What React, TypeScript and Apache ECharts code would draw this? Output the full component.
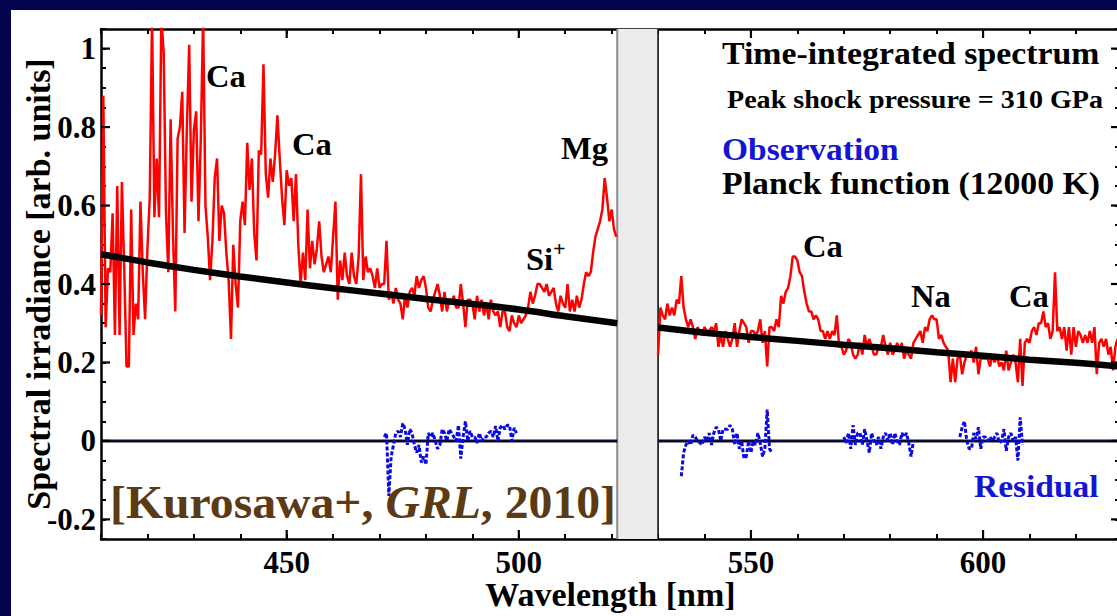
import React, { useEffect, useRef } from 'react';
import * as echarts from 'echarts';

// ---------- data ----------
const xMin = 410;
const xMax = 629.5;
const yMin = -0.25;
const yMax = 1.05;

const bandRange = [521.2, 530];

// Observed spectrum, 0.5 nm sampling
const obsStep = 0.5;
const obsLeftStart = 410;
const obsLeft = [
  0.32, 0.88, 0.29, 0.44, 0.43, 0.58, 0.27, 0.65, 0.27, 0.66,
  0.44, 0.19, 0.19, 0.59, 0.27, 0.35, 0.31, 0.61, 0.43, 0.31,
  0.49, 0.62, 1.08, 0.57, 0.72, 0.57, 1.08, 0.99, 0.58, 0.43,
  0.82, 0.53, 0.33, 0.77, 0.80, 0.89, 0.53, 0.80, 1.01, 0.61,
  0.79, 0.84, 0.56, 0.77, 1.08, 0.60, 0.52, 0.41, 0.51, 0.67,
  0.72, 0.51, 0.60, 0.58, 0.48, 0.41, 0.26, 0.50, 0.40, 0.34,
  0.56, 0.61, 0.55, 0.76, 0.64, 0.72, 0.53, 0.46, 0.74, 0.73,
  0.96, 0.68, 0.62, 0.72, 0.66, 0.73, 0.83, 0.72, 0.62, 0.55,
  0.69, 0.65, 0.67, 0.56, 0.68, 0.50, 0.40, 0.48, 0.41, 0.59,
  0.44, 0.51, 0.45, 0.49, 0.56, 0.47, 0.43, 0.45, 0.47, 0.43,
  0.52, 0.61, 0.36, 0.46, 0.41, 0.48, 0.42, 0.40, 0.48, 0.42,
  0.40, 0.47, 0.68, 0.41, 0.47, 0.43, 0.44, 0.42, 0.39, 0.44,
  0.39, 0.40, 0.40, 0.51, 0.36, 0.38, 0.35, 0.39, 0.36, 0.35,
  0.31, 0.37, 0.34, 0.38, 0.39, 0.37, 0.42, 0.39, 0.41, 0.42,
  0.39, 0.34, 0.33, 0.36, 0.38, 0.40, 0.37, 0.33, 0.38, 0.33,
  0.36, 0.35, 0.37, 0.34, 0.34, 0.40, 0.35, 0.29, 0.36, 0.36,
  0.35, 0.31, 0.37, 0.33, 0.36, 0.32, 0.35, 0.31, 0.36, 0.33,
  0.32, 0.33, 0.29, 0.33, 0.33, 0.29, 0.28, 0.32, 0.30, 0.29,
  0.32, 0.30, 0.31, 0.32, 0.34, 0.38, 0.35, 0.37, 0.40, 0.40,
  0.39, 0.38, 0.40, 0.37, 0.38, 0.39, 0.35, 0.33, 0.37, 0.35,
  0.34, 0.40, 0.33, 0.36, 0.33, 0.37, 0.34, 0.36, 0.40, 0.43,
  0.42, 0.43, 0.48, 0.52, 0.54, 0.56, 0.59, 0.67, 0.62, 0.56,
  0.59, 0.54, 0.52,
];
const obsRightStart = 530;
const obsRight = [
  0.22, 0.34, 0.32, 0.31, 0.35, 0.32, 0.34, 0.32, 0.36, 0.35,
  0.42, 0.34, 0.31, 0.29, 0.31, 0.29, 0.26, 0.29, 0.28, 0.27,
  0.29, 0.28, 0.28, 0.29, 0.28, 0.30, 0.24, 0.27, 0.24, 0.28,
  0.26, 0.24, 0.26, 0.30, 0.24, 0.28, 0.31, 0.30, 0.29, 0.25,
  0.28, 0.28, 0.27, 0.28, 0.31, 0.25, 0.28, 0.19, 0.29, 0.29,
  0.28, 0.31, 0.29, 0.37, 0.35, 0.38, 0.39, 0.42, 0.47, 0.47,
  0.46, 0.43, 0.42, 0.38, 0.35, 0.33, 0.33, 0.31, 0.32, 0.31,
  0.28, 0.28, 0.26, 0.28, 0.26, 0.28, 0.27, 0.32, 0.24, 0.24,
  0.22, 0.23, 0.26, 0.25, 0.22, 0.21, 0.22, 0.25, 0.22, 0.27,
  0.24, 0.26, 0.24, 0.22, 0.22, 0.24, 0.24, 0.27, 0.24, 0.22,
  0.25, 0.22, 0.23, 0.25, 0.23, 0.25, 0.21, 0.23, 0.22, 0.21,
  0.25, 0.26, 0.27, 0.28, 0.25, 0.29, 0.28, 0.31, 0.32, 0.31,
  0.31, 0.26, 0.27, 0.25, 0.24, 0.23, 0.15, 0.21, 0.15, 0.21,
  0.22, 0.17, 0.20, 0.22, 0.22, 0.23, 0.20, 0.24, 0.17, 0.21,
  0.21, 0.21, 0.21, 0.19, 0.22, 0.20, 0.22, 0.19, 0.20, 0.18,
  0.23, 0.18, 0.20, 0.22, 0.20, 0.15, 0.26, 0.14, 0.25, 0.26,
  0.25, 0.28, 0.29, 0.27, 0.30, 0.30, 0.33, 0.29, 0.30, 0.26,
  0.28, 0.43, 0.28, 0.29, 0.26, 0.29, 0.23, 0.29, 0.22, 0.29,
  0.24, 0.28, 0.27, 0.25, 0.27, 0.25, 0.28, 0.25, 0.29, 0.17,
  0.25, 0.26, 0.24, 0.26, 0.22, 0.24, 0.18, 0.24, 0.26, 0.22,
];

// Planck function (12000 K), read at a few wavelengths
const planckLeftX = [410, 420, 430, 440, 450, 460, 470, 480, 490, 500, 510, 521.2];
const planckLeftY = [0.476, 0.455, 0.436, 0.419, 0.404, 0.389, 0.376, 0.362, 0.349, 0.335, 0.318, 0.300];
const planckRightX = [530, 540, 550, 560, 570, 580, 590, 600, 610, 620, 629.5];
const planckRightY = [0.289, 0.276, 0.265, 0.255, 0.245, 0.236, 0.226, 0.217, 0.207, 0.199, 0.190];

// Residuals, 0.5 nm sampling
const res1Start = 471;
const res1 = [
  0.01, 0.02, -0.14, -0.04, -0.01, 0.02, 0.025, 0.01, 0.045, 0.03,
  -0.01, 0.03, 0.02, -0.01, -0.03, -0.01, -0.055, -0.04, -0.06, 0.02,
  0.01, 0.02, 0.0, -0.02, -0.01, 0.03, 0.02, 0.0, 0.03, 0.02,
  0.01, 0.0, 0.04, -0.045, 0.01, 0.05, 0.0, 0.025, 0.01, 0.01,
  -0.005, 0.02, 0.0, 0.01, 0.01, 0.02, 0.025, 0.01, 0.038, 0.0,
  0.034, 0.04, 0.03, 0.04, 0.04, 0.0, 0.033, 0.02,
];
const res2Start = 535;
const res2 = [
  -0.09, -0.03, -0.01, 0.0, -0.01, 0.015, 0.01, 0.0, -0.005, -0.01,
  0.01, 0.0, 0.02, -0.01, 0.02, 0.035, 0.03, 0.0, 0.03, 0.03,
  0.03, 0.04, 0.03, -0.01, 0.02, -0.02, 0.0, -0.045, -0.04, 0.0,
  -0.03, 0.0, -0.01, 0.02, -0.005, -0.04, -0.02, 0.08, -0.02, -0.03,
];
const res3Start = 570;
const res3 = [
  0.01, -0.005, 0.02, -0.02, 0.04, -0.01, 0.02, 0.02, -0.01, 0.03,
  0.0, -0.03, 0.02, 0.0, -0.01, 0.01, -0.02, 0.01, 0.02, 0.0,
  0.02, -0.01, 0.02, 0.0, -0.01, 0.02, 0.01, 0.02, -0.005, -0.04,
  0.0,
];
const res4Start = 595;
const res4 = [
  0.01, 0.035, 0.05, 0.0, -0.02, -0.02, 0.02, 0.005, 0.035, -0.02,
  0.01, 0.01, 0.0, 0.01, 0.0, 0.01, 0.02, -0.005, 0.0, 0.03,
  -0.025, 0.01, 0.02, 0.0, 0.01, -0.05, 0.06, -0.01,
];

// zero line pieces
const zeroLeftX = [410, 521.2];
const zeroRightX = [530, 629.5];

// ticks
const majorXTicks = [450, 500, 550, 600];
const majorYTicks = [-0.2, 0, 0.2, 0.4, 0.6, 0.8, 1.0];

// ---------- helpers ----------
const SERIF = '"Liberation Serif", "Times New Roman", serif';
const sampled = (start: number, vals: number[]) => vals.map((v, i) => [start + i * obsStep, v]);
const zipXY = (xs: number[], ys: number[]) => xs.map((x, i) => [x, ys[i]]);

const RED = '#ff0000';
const BLUE = '#1414d2';
const RES_BLUE = '#0a0ae0';

function txt(
  text: string,
  x: number,
  y: number,
  size: number,
  color = '#000',
  scaleX = 1.05,
) {
  return {
    type: 'text',
    x,
    y,
    scaleX,
    z: 100,
    silent: true,
    style: {
      text,
      fill: color,
      fontSize: size,
      fontWeight: 'bold',
      fontFamily: SERIF,
      align: 'left',
      verticalAlign: 'middle',
    },
  };
}

export default function App() {
  const ref = useRef<HTMLDivElement>(null);

  useEffect(() => {
    if (!ref.current) return;
    const chart = echarts.init(ref.current, null, { renderer: 'svg' });

    const axisLineStyle = { color: '#000', width: 2.5 };
    const minorTick = { show: true, inside: true, length: 5, lineStyle: { color: '#000', width: 2 } };

    const yLabelFmt = (v: number) => {
      if (Math.abs(v * 5 - Math.round(v * 5)) > 1e-6) return '';
      const r = Math.round(v * 10) / 10;
      if (r === 0) return '0';
      return Number.isInteger(r) ? String(r) : r.toFixed(1);
    };

    const lineBase = {
      type: 'line',
      showSymbol: false,
      symbol: 'none',
      silent: true,
      animation: false,
      xAxisIndex: 0,
      yAxisIndex: 0,
    };

    const option: any = {
      animation: false,
      backgroundColor: '#ffffff',
      grid: {
        left: 90,
        top: 19,
        right: -3,
        bottom: 77,
        containLabel: false,
        outerBoundsMode: 'none',
      },
      xAxis: [
        {
          type: 'value',
          position: 'bottom',
          min: xMin,
          max: xMax,
          interval: 10,
          name: 'Wavelength [nm]',
          nameLocation: 'middle',
          nameGap: 41,
          nameMoveOverlap: false,
          nameTextStyle: { fontFamily: SERIF, fontWeight: 'bold', fontSize: 34, lineHeight: 28, color: '#000' },
          axisLine: { show: true, onZero: false, lineStyle: axisLineStyle },
          axisTick: minorTick,
          splitLine: { show: false },
          axisLabel: {
            margin: 11,
            lineHeight: 24,
            fontFamily: SERIF,
            fontWeight: 'bold',
            fontSize: 31,
            color: '#000',
            formatter: (v: number) => (Math.abs(v % 50) < 1e-6 ? String(v) : ''),
          },
        },
        {
          type: 'value',
          position: 'top',
          min: xMin,
          max: xMax,
          interval: 10,
          axisLine: { show: true, onZero: false, lineStyle: axisLineStyle },
          axisTick: minorTick,
          splitLine: { show: false },
          axisLabel: { show: false },
        },
      ],
      yAxis: [
        {
          type: 'value',
          position: 'left',
          min: yMin,
          max: yMax,
          interval: 0.05,
          name: 'Spectral irradiance [arb. units]',
          nameLocation: 'middle',
          nameGap: 46,
          nameMoveOverlap: false,
          nameTextStyle: { fontFamily: SERIF, fontWeight: 'bold', fontSize: 34, color: '#000' },
          axisLine: { show: true, onZero: false, lineStyle: axisLineStyle },
          axisTick: minorTick,
          splitLine: { show: false },
          axisLabel: {
            margin: 5,
            fontFamily: SERIF,
            fontWeight: 'bold',
            fontSize: 31,
            color: '#000',
            formatter: yLabelFmt,
          },
        },
        {
          type: 'value',
          position: 'right',
          min: yMin,
          max: yMax,
          interval: 0.05,
          axisLine: { show: true, onZero: false, lineStyle: axisLineStyle },
          axisTick: minorTick,
          splitLine: { show: false },
          axisLabel: { show: false },
        },
      ],
      series: [
        // grey gap band
        {
          type: 'custom',
          silent: true,
          z: 1,
          data: [[bandRange[0], bandRange[1]]],
          renderItem: (params: any, api: any) => {
            const cs = params.coordSys;
            const x0 = api.coord([api.value(0), 0])[0];
            const x1 = api.coord([api.value(1), 0])[0];
            return {
              type: 'group',
              children: [
                {
                  type: 'rect',
                  shape: { x: x0, y: cs.y, width: x1 - x0, height: cs.height },
                  style: { fill: '#ececec' },
                },
                {
                  type: 'line',
                  shape: { x1: x0, y1: cs.y, x2: x0, y2: cs.y + cs.height },
                  style: { stroke: '#8a8a8a', lineWidth: 2 },
                },
                {
                  type: 'line',
                  shape: { x1: x1, y1: cs.y, x2: x1, y2: cs.y + cs.height },
                  style: { stroke: '#000', lineWidth: 1.5 },
                },
              ],
            };
          },
        },
        // zero line
        { ...lineBase, name: 'zero', z: 2, data: zipXY(zeroLeftX, [0, 0]), lineStyle: { color: '#0a0a2a', width: 3 } },
        { ...lineBase, name: 'zero', z: 2, data: zipXY(zeroRightX, [0, 0]), lineStyle: { color: '#0a0a2a', width: 3 } },
        // observation
        { ...lineBase, name: 'Observation', z: 3, data: sampled(obsLeftStart, obsLeft), lineStyle: { color: RED, width: 2.5 } },
        { ...lineBase, name: 'Observation', z: 3, data: sampled(obsRightStart, obsRight), lineStyle: { color: RED, width: 2.5 } },
        // Planck
        { ...lineBase, name: 'Planck', z: 4, smooth: 0.3, data: zipXY(planckLeftX, planckLeftY), lineStyle: { color: '#000', width: 6.5 } },
        { ...lineBase, name: 'Planck', z: 4, smooth: 0.3, data: zipXY(planckRightX, planckRightY), lineStyle: { color: '#000', width: 6.5 } },
        // residuals
        ...[
          [res1Start, res1],
          [res2Start, res2],
          [res3Start, res3],
          [res4Start, res4],
        ].map(([s, vals]) => ({
          ...lineBase,
          name: 'Residual',
          z: 5,
          data: sampled(s as number, vals as number[]),
          lineStyle: { color: RES_BLUE, width: 3, type: [4, 2] },
        })),
        // major ticks on x axes
        {
          type: 'custom',
          silent: true,
          z: 10,
          data: majorXTicks.map((v) => [v, yMin]),
          renderItem: (params: any, api: any) => {
            const cs = params.coordSys;
            const px = api.coord([api.value(0), api.value(1)])[0];
            const b = cs.y + cs.height;
            return {
              type: 'group',
              children: [
                { type: 'line', shape: { x1: px, y1: b, x2: px, y2: b - 9 }, style: { stroke: '#000', lineWidth: 2.2 } },
                { type: 'line', shape: { x1: px, y1: cs.y, x2: px, y2: cs.y + 9 }, style: { stroke: '#000', lineWidth: 2.2 } },
              ],
            };
          },
        },
        // major ticks on y axes
        {
          type: 'custom',
          silent: true,
          z: 10,
          data: majorYTicks.map((v) => [xMin, v]),
          renderItem: (params: any, api: any) => {
            const cs = params.coordSys;
            const py = api.coord([api.value(0), api.value(1)])[1];
            const r = cs.x + cs.width;
            return {
              type: 'group',
              children: [
                { type: 'line', shape: { x1: cs.x, y1: py, x2: cs.x + 9, y2: py }, style: { stroke: '#000', lineWidth: 2.2 } },
                { type: 'line', shape: { x1: r, y1: py, x2: r - 9, y2: py }, style: { stroke: '#000', lineWidth: 2.2 } },
              ],
            };
          },
        },
      ],
      graphic: [
        txt('Ca', 195, 66.5, 31),
        txt('Ca', 281, 134.5, 31),
        txt('Mg', 550, 138.5, 31),
        txt('Si', 515, 250, 31),
        txt('+', 542, 239.5, 21),
        txt('Ca', 792, 236.5, 31),
        txt('Na', 900, 287, 31),
        txt('Ca', 998, 287, 31),
        txt('Time-integrated spectrum', 711, 43.5, 31, '#000', 1.09),
        txt('Peak shock pressure = 310 GPa', 716, 89.5, 26, '#000', 1.08),
        txt('Observation', 711, 139, 31, BLUE, 1.08),
        txt('Planck function (12000 K)', 711, 173, 31, '#000', 1.09),
        txt('Residual', 963, 476.5, 31, BLUE, 1.08),
        {
          type: 'text',
          x: 99,
          y: 492.5,
          scaleX: 1.015,
          z: 100,
          silent: true,
          style: {
            text: '{a|[Kurosawa+, }{b|GRL}{a|, 2010]}',
            align: 'left',
            verticalAlign: 'middle',
            rich: {
              a: { fontSize: 47, fontWeight: 'bold', fontFamily: SERIF, fill: '#5b3a14' },
              b: { fontSize: 47, fontWeight: 'bold', fontStyle: 'italic', fontFamily: SERIF, fill: '#5b3a14' },
            },
          },
        },
      ],
    };

    chart.setOption(option);
    return () => chart.dispose();
  }, []);

  return (
    <div
      style={{
        position: 'fixed',
        left: 0,
        top: 0,
        width: 1117,
        height: 616,
        background: '#03034f',
        overflow: 'hidden',
      }}
    >
      <div
        ref={ref}
        style={{ position: 'absolute', left: 11, top: 10, width: 1106, height: 606, background: '#ffffff' }}
      />
    </div>
  );
}
